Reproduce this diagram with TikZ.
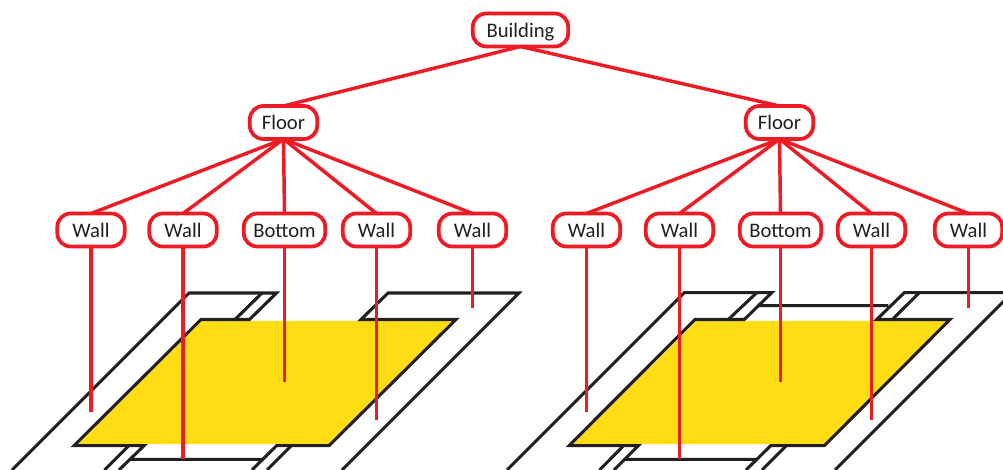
\documentclass[tikz,border=0pt]{standalone}
\usepackage{fontspec}
\setmainfont{Carlito}
\definecolor{linkred}{HTML}{ED1C24}
\definecolor{slabyellow}{HTML}{FFDD15}
\definecolor{wallblack}{HTML}{231F20}
\tikzset{
	partbox/.style={draw=linkred, line width=2.8pt, fill=white, rounded corners=10pt, text=wallblack, font=\fontsize{15.5}{18}\selectfont, inner sep=0pt, outer sep=0pt, text height=14pt, text depth=3pt, minimum height=24.75pt, minimum width=50.5pt},
	link/.style={draw=linkred, line width=2.6pt},
	wallline/.style={draw=wallblack, line width=2.3pt}
}
\begin{document}
\begin{tikzpicture}[x=0.75pt,y=-0.75pt]
	\useasboundingbox (0,0) rectangle (1003,470);
	%left slab
	\fill[slabyellow] (202,321) -- (455,321) -- (332,444) -- (78,444) -- cycle;
	\draw[wallline] (12,470) -- (189,293) -- (276.5,293) -- (249.5,319.5) -- (201,319.5) -- (74,445.7) -- (144,445.7) -- (119,470); %left wall
	\draw[wallline] (262,293) -- (235,319.5) (128.5,446) -- (104.5,470) (130,459.3) -- (262,459.3);
	\draw[wallline] (342,470) -- (519,293) -- (388,293) -- (361,319.5) -- (456,319.5) -- (329,445.7) -- (276.5,445.7) -- (252,470); %right wall
	\draw[wallline] (291,446) -- (267,470);
	%right slab
	\fill[slabyellow] (696,321) -- (949,321) -- (827,444) -- (573,444) -- cycle;
	\draw[wallline] (507,470) -- (684.3,292.7) -- (771.7,292.7) -- (744.3,319.5) -- (695,319.5) -- (569,445.7) -- (638.3,445.7) -- (614,470);
	\draw[wallline] (756.7,292.7) -- (728.3,319.5) (623.3,446) -- (599.5,470) (625,459.3) -- (756.7,459.3) (758,305.7) -- (888.3,305.7);
	\draw[wallline] (1010,292.7) -- (904.3,292.7) -- (876.7,319.5) -- (950,319.5) -- (824.3,445.7) -- (770.7,445.7) -- (746,470);
	\draw[wallline] (919.3,292.7) -- (893.3,318.5) (786,446) -- (762,470) (835,470) -- (1010,295);
	%nodes
	\node[partbox, minimum width=71.5pt] (building) at (520.5,30) {Building};
	\node[partbox] (floorA) at (283.5,122.5) {Floor};
	\node[partbox] (floorB) at (779.5,122.5) {Floor};
	\node[partbox] (wallAa) at (91,230) {Wall};
	\node[partbox] (wallAb) at (183,230) {Wall};
	\node[partbox, minimum width=61pt] (bottomA) at (284.5,230) {Bottom};
	\node[partbox] (wallAc) at (376.5,230) {Wall};
	\node[partbox] (wallAd) at (472.5,230) {Wall};
	\node[partbox] (wallBa) at (586.5,230) {Wall};
	\node[partbox] (wallBb) at (679.5,230) {Wall};
	\node[partbox, minimum width=61pt] (bottomB) at (780.5,230) {Bottom};
	\node[partbox] (wallBc) at (871.5,230) {Wall};
	\node[partbox] (wallBd) at (968.5,230) {Wall};
	%free ends
	\coordinate (endAa) at (91,411.7);
	\coordinate (endAb) at (183,459.3);
	\coordinate (endAc) at (284.5,381.7);
	\coordinate (endAd) at (376.5,420);
	\coordinate (endAe) at (472.5,308);
	\coordinate (endBa) at (586.5,411.7);
	\coordinate (endBb) at (679.5,459.3);
	\coordinate (endBc) at (780.5,381.7);
	\coordinate (endBd) at (871.5,420);
	\coordinate (endBe) at (968.5,308);
	%links
	\draw[link] (building.south) -- (floorA.north);
	\draw[link] (building.south) -- (floorB.north);
	\draw[link] (floorA.south) -- (wallAa.north);
	\draw[link] (floorA.south) -- (wallAb.north);
	\draw[link] (floorA.south) -- (bottomA.north);
	\draw[link] (floorA.south) -- (wallAc.north);
	\draw[link] (floorA.south) -- (wallAd.north);
	\draw[link] (floorB.south) -- (wallBa.north);
	\draw[link] (floorB.south) -- (wallBb.north);
	\draw[link] (floorB.south) -- (bottomB.north);
	\draw[link] (floorB.south) -- (wallBc.north);
	\draw[link] (floorB.south) -- (wallBd.north);
	\draw[link] (wallAa.south) -- (endAa);
	\draw[link] (wallAb.south) -- (endAb);
	\draw[link] (bottomA.south) -- (endAc);
	\draw[link] (wallAc.south) -- (endAd);
	\draw[link] (wallAd.south) -- (endAe);
	\draw[link] (wallBa.south) -- (endBa);
	\draw[link] (wallBb.south) -- (endBb);
	\draw[link] (bottomB.south) -- (endBc);
	\draw[link] (wallBc.south) -- (endBd);
	\draw[link] (wallBd.south) -- (endBe);
\end{tikzpicture}
\end{document}
